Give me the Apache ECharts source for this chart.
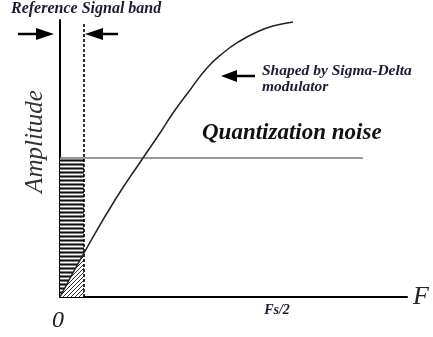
<!DOCTYPE html>
<html><head><meta charset="utf-8">
<script src="https://cdn.jsdelivr.net/npm/echarts@6/dist/echarts.min.js"></script>
<style>html,body{margin:0;padding:0;background:#fff}#c{width:433px;height:337px}</style>
</head><body><div id="c"></div>
<script>
// ---- data (x: frequency, y: amplitude, arbitrary units) ----
const curveX = [0, 24, 55, 83, 100, 113, 130, 147, 163, 180, 197, 213, 233];
const curveY = [0, 44, 97, 139, 164, 184, 207, 229, 244, 256, 265, 271, 275];
const bandEdge = 24;
const bandTop = 275;
const noiseLevel = 139;
const noiseEnd = 303;
const xTickValues = [0, 217];
const xTickLabels = ['0', 'Fs/2'];
const xMax = 347;
const yMax = 277;

const SERIF = "'Liberation Serif', 'Times New Roman', serif";

function stripes() {
  const c = document.createElement('canvas'); c.width = 4; c.height = 4;
  const g = c.getContext('2d');
  g.fillStyle = '#fff'; g.fillRect(0, 0, 4, 4);
  g.fillStyle = '#111'; g.fillRect(0, 0, 4, 1);
  g.fillStyle = '#7a7a7a'; g.fillRect(0, 1, 4, 1); g.fillRect(0, 3, 4, 1);
  return c;
}
function diag() {
  const c = document.createElement('canvas'); c.width = 4; c.height = 4;
  const g = c.getContext('2d');
  g.fillStyle = '#fff'; g.fillRect(0, 0, 4, 4);
  g.fillStyle = '#333';
  for (let i = 0; i < 4; i++) g.fillRect(i, 3 - i, 1, 1);
  return c;
}

const curve = curveX.map((x, i) => [x, curveY[i]]);
const triangle = curve.filter(p => p[0] <= bandEdge);
const labelStyles = ['z', 'f'];

function arrow(x1, x2, y, headLen, half) {
  const dir = x2 > x1 ? 1 : -1;
  const hb = x2 - dir * headLen;
  return [
    { type: 'line', shape: { x1: x1, y1: y, x2: hb, y2: y }, style: { stroke: '#000', lineWidth: 2.5 } },
    { type: 'polygon', shape: { points: [[x2, y], [hb, y - half], [hb, y + half]] }, style: { fill: '#000' } }
  ];
}

const chart = echarts.init(document.getElementById('c'));
chart.setOption({
  animation: false,
  backgroundColor: '#fff',
  title: {
    text: 'Reference Signal band', left: 11, top: 1, padding: 0,
    textStyle: { fontFamily: SERIF, fontStyle: 'italic', fontWeight: 'bold', fontSize: 16, color: '#1b1b33' }
  },
  grid: { left: 60, top: 20, right: 26, bottom: 40 },
  xAxis: {
    type: 'value', min: 0, max: xMax,
    axisLine: { show: true, lineStyle: { color: '#000', width: 2 } },
    axisTick: { show: false }, splitLine: { show: false },
    axisLabel: {
      customValues: xTickValues, margin: 6, showMinLabel: true,
      formatter: v => { const i = xTickValues.indexOf(v); return '{' + labelStyles[i] + '|' + xTickLabels[i] + '}'; },
      rich: {
        z: { fontFamily: SERIF, fontStyle: 'italic', fontSize: 24, color: '#222', padding: [6, 4, 0, 0] },
        f: { fontFamily: SERIF, fontStyle: 'italic', fontWeight: 'bold', fontSize: 14, color: '#1b1b33' }
      }
    },
    name: 'F', nameLocation: 'end', nameGap: 6,
    nameTextStyle: { fontFamily: SERIF, fontStyle: 'italic', fontSize: 26, color: '#222', verticalAlign: 'middle', padding: [34, 0, 0, 0] }
  },
  yAxis: {
    type: 'value', min: 0, max: yMax,
    axisLine: { show: true, lineStyle: { color: '#000', width: 2 } },
    axisTick: { show: false }, splitLine: { show: false }, axisLabel: { show: false },
    name: 'Amplitude', nameLocation: 'middle', nameGap: 12,
    nameTextStyle: { fontFamily: SERIF, fontStyle: 'italic', fontSize: 25, color: '#333', padding: [0, 0, 0, 34] }
  },
  series: [
    { type: 'line', data: [[0, noiseLevel], [bandEdge, noiseLevel]], symbol: 'none', silent: true,
      lineStyle: { width: 0 }, areaStyle: { color: { image: stripes(), repeat: 'repeat' }, opacity: 1 } },
    { type: 'line', data: triangle, symbol: 'none', silent: true,
      lineStyle: { width: 0 }, areaStyle: { color: { image: diag(), repeat: 'repeat' }, opacity: 1 } },
    { type: 'line', data: [[0, noiseLevel], [noiseEnd, noiseLevel]], symbol: 'none',
      lineStyle: { color: '#777', width: 1.5 } },
    { type: 'line', data: [[bandEdge, 0], [bandEdge, bandTop]], symbol: 'none',
      lineStyle: { color: '#000', width: 1.6, type: [3, 2] } },
    { type: 'line', data: curve, symbol: 'none', smooth: 0.5, z: 5,
      lineStyle: { color: '#222', width: 1.5 } }
  ],
  graphic: {
    elements: [
      ...arrow(18, 54, 34, 18, 6),
      ...arrow(118, 85, 34, 18, 6),
      ...arrow(255, 221, 76, 16, 6),
      { type: 'text', x: 262, y: 63, style: { text: 'Shaped by Sigma-Delta\nmodulator', fontFamily: SERIF, fontStyle: 'italic', fontWeight: 'bold', fontSize: 15.5, lineHeight: 16, fill: '#1b1b33' } },
      { type: 'text', x: 202, y: 122, style: { text: 'Quantization noise', fontFamily: SERIF, fontStyle: 'italic', fontWeight: 'bold', fontSize: 23, fill: '#111' } }
    ]
  }
});
</script>
</body></html>
